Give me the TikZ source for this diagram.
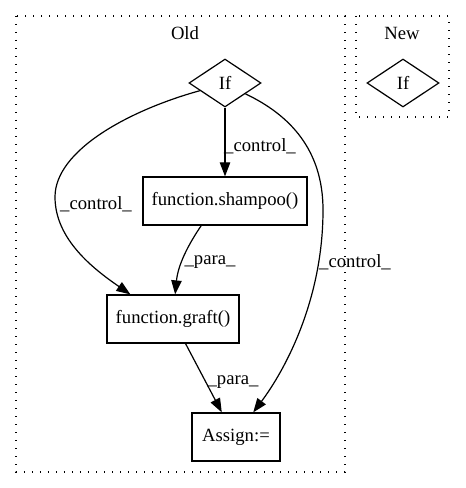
\documentclass[tikz,border=0pt]{standalone}
\usepackage{fontspec}
\setmainfont{Liberation Serif}
\usetikzlibrary{shapes.geometric,arrows.meta}
\begin{document}
\begin{tikzpicture}[x=0.75pt,y=-0.75pt,
  every node/.style={font=\fontsize{14pt}{16pt}\selectfont},
  box/.style={draw,line width=0.9pt,rectangle,minimum height=36pt,inner sep=0pt},
  cond/.style={draw,line width=0.9pt,diamond,aspect=1.5,minimum width=54pt,minimum height=36pt,inner sep=0pt},
  cluster/.style={line width=1pt,dash pattern=on 1.1pt off 4.9pt},
  edge/.style={line width=0.9pt,-{Triangle[length=10.5pt,width=7.8pt]}},
  lbl/.style={inner sep=0pt}]
\useasboundingbox (0,0) rectangle (465,488);

% subgraph frames
\draw[cluster] (16,16) rectangle (345,472);
\draw[cluster] (356,16) rectangle (449,117);
\node (oldtitle) at (185,33) {Old};
\node (newtitle) at (402,33) {New};

% nodes
\node[cond] (ifold) at (225,83) {If};
\node[cond] (ifnew) at (403,83) {If};
\node[box,minimum width=123pt] (shampoo) at (225,201) {function.shampoo()};
\node[box,minimum width=99pt] (graft) at (173,319) {function.graft()};
\node[box,minimum width=66pt] (assign) at (236,437) {Assign:=};

% edges
\draw[edge] (ifold.south) -- (shampoo.north);
\node[lbl] (l1) at (260,146) {\_control\_};

\draw[edge] (ifold.197) .. controls (130,110) and (55,150) .. (55,197)
  .. controls (55,240) and (95,270) .. (graft.150);
\node[lbl] (l2) at (96,204) {\_control\_};

\draw[edge] (shampoo.226) .. controls (188,245) and (178,265) .. (graft.85);
\node[lbl] (l3) at (210,262) {\_para\_};

\draw[edge] (ifold.332) .. controls (290,115) and (323,150) .. (323,210)
  .. controls (323,300) and (285,370) .. (assign.55);
\node[lbl] (l4) at (355,262) {\_control\_};

\draw[edge] (graft.-63) -- (assign.120);
\node[lbl] (l5) at (233,382) {\_para\_};
\end{tikzpicture}
\end{document}
